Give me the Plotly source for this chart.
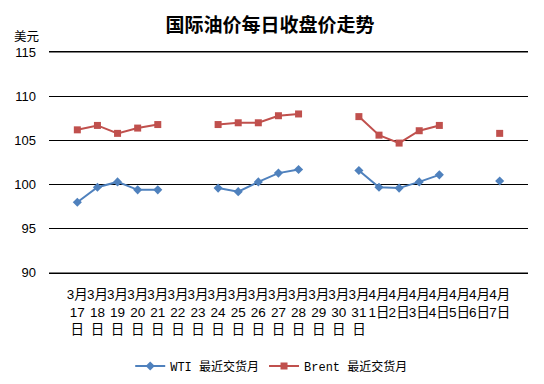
import plotly.graph_objects as go

categories = ["3月<br>17<br>日", "3月<br>18<br>日", "3月<br>19<br>日", "3月<br>20<br>日", "3月<br>21<br>日",
              "3月<br>22<br>日", "3月<br>23<br>日", "3月<br>24<br>日", "3月<br>25<br>日", "3月<br>26<br>日",
              "3月<br>27<br>日", "3月<br>28<br>日", "3月<br>29<br>日", "3月<br>30<br>日", "3月<br>31<br>日",
              "4月<br>1日", "4月<br>2日", "4月<br>3日", "4月<br>4日", "4月<br>5日", "4月<br>6日", "4月<br>7日"]

wti = [98.0, 99.7, 100.3, 99.4, 99.4, None, None, 99.6, 99.2, 100.3, 101.3, 101.7, None, None,
       101.6, 99.7, 99.6, 100.3, 101.1, None, None, 100.4]
brent = [106.2, 106.7, 105.8, 106.4, 106.8, None, None, 106.8, 107.0, 107.0, 107.8, 108.0, None, None,
         107.7, 105.6, 104.7, 106.1, 106.7, None, None, 105.8]

cjk = "Noto Sans CJK SC"
axis_font = "Liberation Sans, Noto Sans CJK SC"
legend_font = "Liberation Mono, Noto Sans CJK SC"

fig = go.Figure()
fig.add_trace(go.Scatter(x=categories, y=wti, mode="lines+markers", name="WTI 最近交货月",
                         line=dict(color="#4F81BD", width=2),
                         marker=dict(symbol="diamond", size=7, color="#4F81BD"),
                         connectgaps=False))
fig.add_trace(go.Scatter(x=categories, y=brent, mode="lines+markers", name="Brent 最近交货月",
                         line=dict(color="#C0504D", width=2),
                         marker=dict(symbol="square", size=7, color="#C0504D"),
                         connectgaps=False))

fig.update_layout(
    width=536, height=376,
    margin=dict(l=41, r=16, t=44, b=111),
    paper_bgcolor="white", plot_bgcolor="white",
    font=dict(family=axis_font, size=12, color="black"),
    title=dict(text="<b>国际油价每日收盘价走势</b>", x=0.489, xanchor="center", y=0.953, yanchor="middle",
               font=dict(size=19, family=cjk)),
    showlegend=True,
    legend=dict(orientation="h", xref="container", yref="container", x=0.492, xanchor="center",
                y=0.048, yanchor="middle", font=dict(size=12, family=legend_font), itemwidth=30),
    xaxis=dict(type="category", showgrid=False, showline=True, mirror=True, linecolor="black",
               linewidth=1, ticks="", tickfont=dict(size=13.5, family=axis_font), tickangle=0,
               ticklabelstandoff=9, automargin=False),
    yaxis=dict(range=[89.98, 115.02], tickvals=[90, 95, 100, 105, 110, 115], showgrid=True,
               gridcolor="black", gridwidth=1,
               showline=False, zeroline=False, ticks="", tickfont=dict(size=13, family=axis_font),
               ticklabelstandoff=12, automargin=False),
    shapes=[dict(type="line", xref="paper", yref="paper", x0=0, x1=1, y0=1, y1=1,
                 line=dict(color="black", width=1)),
            dict(type="line", xref="paper", yref="paper", x0=0, x1=1, y0=0, y1=0,
                 line=dict(color="black", width=1))],
    annotations=[dict(text="美元", xref="paper", yref="paper", x=-0.047, y=1.073,
                      xanchor="center", yanchor="middle", showarrow=False,
                      font=dict(size=12.5, family=cjk))],
)

fig.write_html("out.html")
